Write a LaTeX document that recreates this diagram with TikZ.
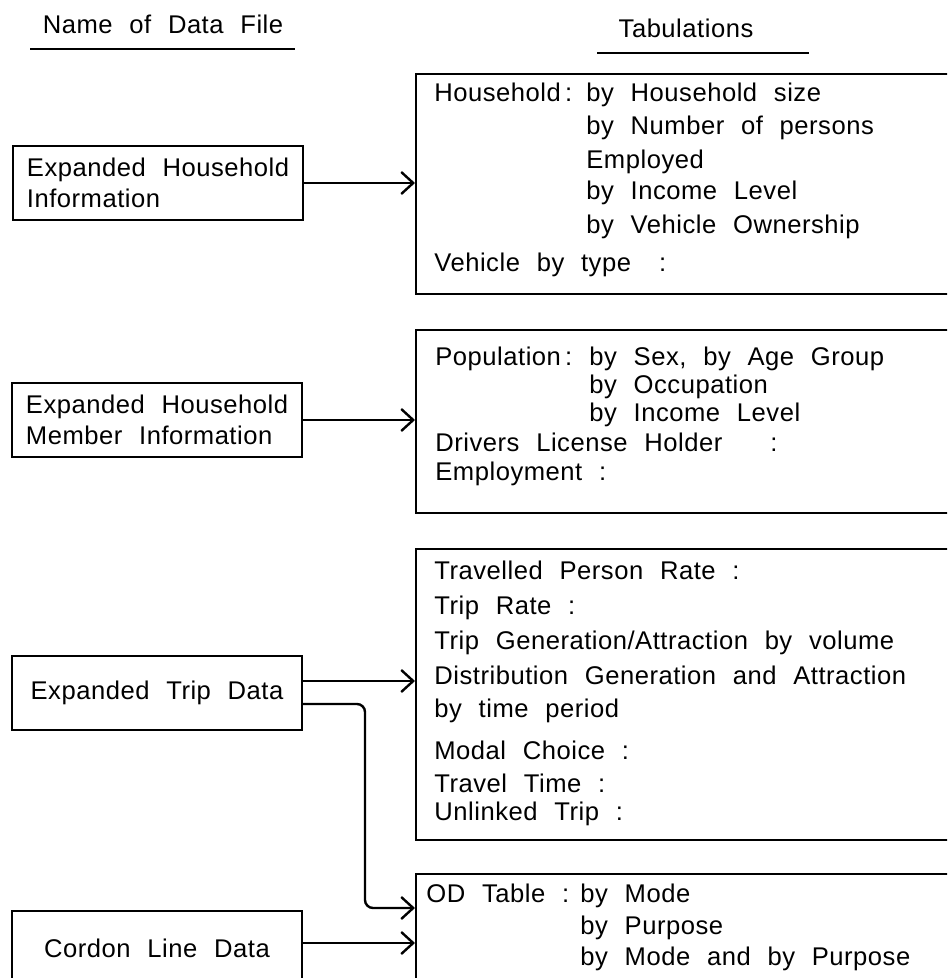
\documentclass[tikz,border=0pt]{standalone}
\usepackage{fontspec}
\newfontfamily\scanfont{Liberation Sans}[LetterSpace=2,WordSpace=2.2]
\usetikzlibrary{arrows.meta,calc,positioning}

\begin{document}
\begin{tikzpicture}[
            x=0.5pt, y=-0.5pt,
            every node/.append style={font=\scanfont\fontsize{12.8}{15.5}\selectfont},
            filebox/.style={draw, line width=1pt, minimum width=145pt, minimum height=37pt, align=left, inner sep=0pt},
            tabbox/.style={draw, line width=1pt, anchor=north west, minimum width=275pt, inner sep=0pt},
            entry/.style={anchor=base west, inner sep=0pt},
            header/.style={anchor=base, inner xsep=0pt, inner ysep=7pt},
            arr/.style={line width=1.2pt, -{Straight Barb[length=6pt,width=11pt]}}
        ]
            \clip (0,0) rectangle (947,978);

            % headings
            \node[header] (hdrL) at (163,34) {Name of Data File};
            \node[header] (hdrR) at (686,38) {Tabulations};
            \draw[line width=1pt] ([xshift=-6pt]hdrL.south west) -- ([xshift=5.5pt]hdrL.south east);
            \draw[line width=1pt] ([xshift=-10.5pt]hdrR.south west) -- ([xshift=27.5pt]hdrR.south east);

            % data files
            \node[filebox] (fileA) at (158,183) {Expanded Household\\Information};
            \node[filebox] (fileB) at (157,420) {Expanded Household\\Member Information};
            \node[filebox] (fileC) at (157,693) {Expanded Trip Data};
            \node[filebox] (fileD) at (157,948) {Cordon Line Data};

            % tabulations
            \node[tabbox, minimum height=110pt] (tabA) at (415,73) {};
            \node[tabbox, minimum height=91.5pt] (tabB) at (415,329) {};
            \node[tabbox, minimum height=145.5pt] (tabC) at (415,548) {};
            \node[tabbox, minimum height=60pt] (tabD) at (415,873) {};

            \foreach \x/\y/\t [count=\i] in {434/102/Household\,:, 586/102/by Household size,
                    586/135/by Number of persons, 586/169/Employed, 586/200/by Income Level,
                    586/234/by Vehicle Ownership, 434/272/Vehicle by type\hspace{14pt}:}
                \node[entry] (tA\i) at (\x,\y) {\t};
            \foreach \x/\y/\t [count=\i] in {435/365/Population\,:, 589/365/{by Sex, by Age Group},
                    589/393/by Occupation, 589/421/by Income Level,
                    435/451/Drivers License Holder\hspace{24pt}:, 435/480/Employment :}
                \node[entry] (tB\i) at (\x,\y) {\t};
            \foreach \y/\t [count=\i] in {579/Travelled Person Rate :, 614/Trip Rate :,
                    649/{Trip Generation/Attraction by volume}, 684/Distribution Generation and Attraction,
                    717/by time period, 759/Modal Choice :, 792/Travel Time :, 820/Unlinked Trip :}
                \node[entry] (tC\i) at (434,\y) {\t};
            \foreach \x/\y/\t [count=\i] in {426/902/OD Table :, 580/902/by Mode,
                    580/934/by Purpose, 580/965/by Mode and by Purpose}
                \node[entry] (tD\i) at (\x,\y) {\t};

            % connectors
            \coordinate (bend) at (365,908);
            \draw[arr] (fileA.east) -- (fileA.east -| tabA.west);
            \draw[arr] (fileB.east) -- (fileB.east -| tabB.west);
            \draw[arr] ([yshift=6pt]fileC.east) -- ([yshift=6pt]fileC.east -| tabC.west);
            \draw[arr, rounded corners=4pt] ([yshift=-5.5pt]fileC.east) -| (bend) -- (bend -| tabD.west);
            \draw[arr] ([yshift=2.5pt]fileD.east) -- ([yshift=2.5pt]fileD.east -| tabD.west);
        \end{tikzpicture}
\end{document}
